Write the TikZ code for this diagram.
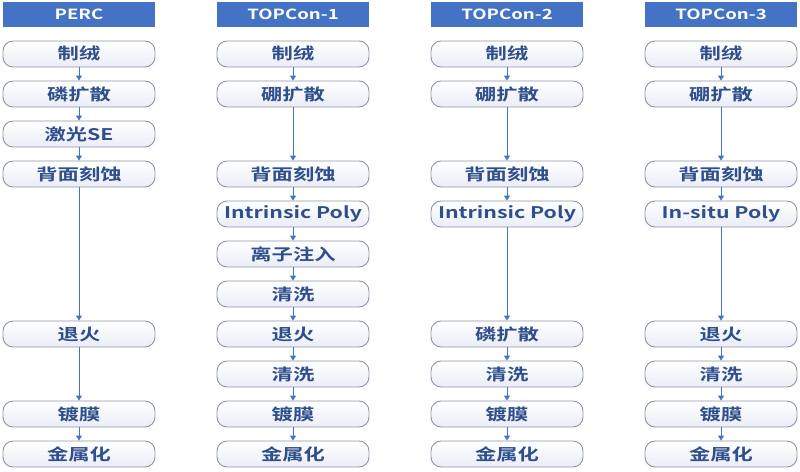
\documentclass[tikz,border=0pt]{standalone}
\usepackage{fontspec}
\newfontfamily\cjk{Noto Sans CJK SC}[BoldFont={* Bold}, FakeStretch=1.33]
\usetikzlibrary{arrows.meta}
\definecolor{hdrblue}{HTML}{4472C4}
\definecolor{txtblue}{HTML}{2F4E8C}
\definecolor{boxedge}{HTML}{8E95A5}
\definecolor{boxfill}{HTML}{EAEDF7}
\tikzset{
  hdr/.style={fill=hdrblue, minimum width=152pt, minimum height=25pt, inner sep=0pt,
     text=white, font=\cjk\bfseries\fontsize{14pt}{14pt}\selectfont},
  proc/.style={draw=boxedge, line width=0.9pt, rounded corners=10pt, top color=white, bottom color=boxfill,
     minimum width=152pt, minimum height=26pt, inner sep=0pt,
     text=txtblue, font=\cjk\bfseries\fontsize{16pt}{16pt}\selectfont},
  flow/.style={draw=hdrblue, line width=0.9pt, -{Triangle[width=6pt,length=5pt]}}
}
\begin{document}
\begin{tikzpicture}[x=1pt,y=-1pt]
\useasboundingbox (0,0) rectangle (800,471);
% headers
\node[hdr] (h1) at (79,14.5) {PERC};
\node[hdr] (h2) at (293,14.5) {TOPCon-1};
\node[hdr] (h3) at (507,14.5) {TOPCon-2};
\node[hdr] (h4) at (721,14.5) {TOPCon-3};
% PERC
\node[proc] (a0) at (79,54) {制绒};
\node[proc] (a1) at (79,94) {磷扩散};
\node[proc] (a2) at (79,134) {激光SE};
\node[proc] (a3) at (79,174) {背面刻蚀};
\node[proc] (a7) at (79,334) {退火};
\node[proc] (a9) at (79,414) {镀膜};
\node[proc] (a10) at (79,454) {金属化};
\draw[flow] (a0) -- (a1);
\draw[flow] (a1) -- (a2);
\draw[flow] (a2) -- (a3);
\draw[flow] (a3) -- (a7);
\draw[flow] (a7) -- (a9);
\draw[flow] (a9) -- (a10);
% TOPCon-1
\node[proc] (b0) at (293,54) {制绒};
\node[proc] (b1) at (293,94) {硼扩散};
\node[proc] (b3) at (293,174) {背面刻蚀};
\node[proc] (b4) at (293,214) {Intrinsic Poly};
\node[proc] (b5) at (293,254) {离子注入};
\node[proc] (b6) at (293,294) {清洗};
\node[proc] (b7) at (293,334) {退火};
\node[proc] (b8) at (293,374) {清洗};
\node[proc] (b9) at (293,414) {镀膜};
\node[proc] (b10) at (293,454) {金属化};
\draw[flow] (b0) -- (b1);
\draw[flow] (b1) -- (b3);
\draw[flow] (b3) -- (b4);
\draw[flow] (b4) -- (b5);
\draw[flow] (b5) -- (b6);
\draw[flow] (b6) -- (b7);
\draw[flow] (b7) -- (b8);
\draw[flow] (b8) -- (b9);
\draw[flow] (b9) -- (b10);
% TOPCon-2
\node[proc] (c0) at (507,54) {制绒};
\node[proc] (c1) at (507,94) {硼扩散};
\node[proc] (c3) at (507,174) {背面刻蚀};
\node[proc] (c4) at (507,214) {Intrinsic Poly};
\node[proc] (c7) at (507,334) {磷扩散};
\node[proc] (c8) at (507,374) {清洗};
\node[proc] (c9) at (507,414) {镀膜};
\node[proc] (c10) at (507,454) {金属化};
\draw[flow] (c0) -- (c1);
\draw[flow] (c1) -- (c3);
\draw[flow] (c3) -- (c4);
\draw[flow] (c4) -- (c7);
\draw[flow] (c7) -- (c8);
\draw[flow] (c8) -- (c9);
\draw[flow] (c9) -- (c10);
% TOPCon-3
\node[proc] (d0) at (721,54) {制绒};
\node[proc] (d1) at (721,94) {硼扩散};
\node[proc] (d3) at (721,174) {背面刻蚀};
\node[proc] (d4) at (721,214) {In-situ Poly};
\node[proc] (d7) at (721,334) {退火};
\node[proc] (d8) at (721,374) {清洗};
\node[proc] (d9) at (721,414) {镀膜};
\node[proc] (d10) at (721,454) {金属化};
\draw[flow] (d0) -- (d1);
\draw[flow] (d1) -- (d3);
\draw[flow] (d3) -- (d4);
\draw[flow] (d4) -- (d7);
\draw[flow] (d7) -- (d8);
\draw[flow] (d8) -- (d9);
\draw[flow] (d9) -- (d10);
\end{tikzpicture}
\end{document}
